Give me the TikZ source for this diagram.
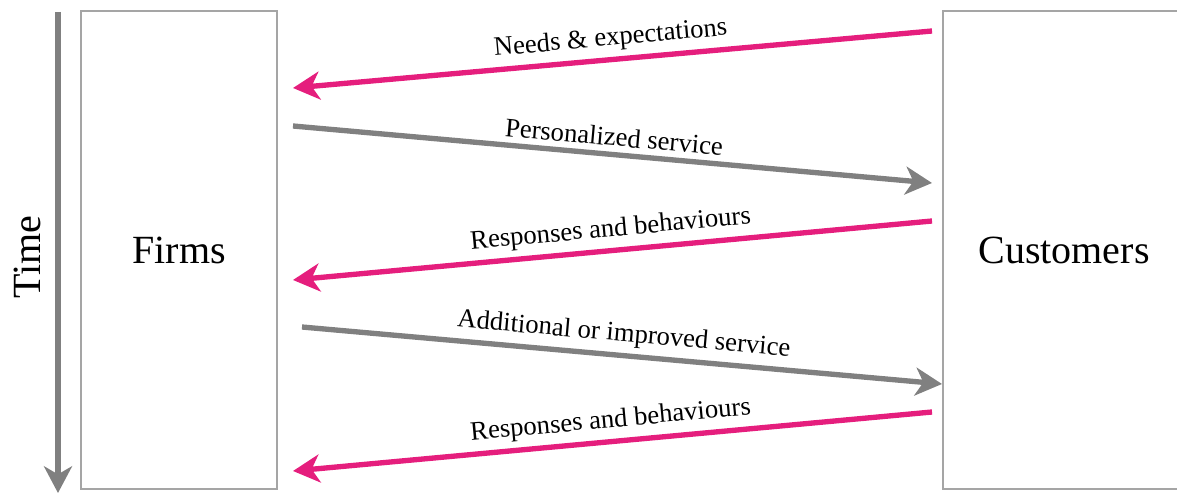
\documentclass[tikz,border=0pt]{standalone}
\usepackage{fontspec}
\setmainfont{Liberation Serif}
\usetikzlibrary{arrows.meta}
\definecolor{flowpink}{RGB}{229,30,125}
\definecolor{flowgray}{RGB}{128,128,128}
\definecolor{boxgray}{RGB}{165,165,165}
\tikzset{
    frame/.style = {draw=boxgray, line width=1.2pt},
    party/.style = {inner sep=0pt, minimum height=358.5pt},
    big/.style = {font=\fontsize{30}{36}\selectfont},
    flow/.style = {line width=4pt, -{Stealth[length=20pt, width=21pt, inset=6pt]}},
    to_firm/.style = {flow, flowpink},
    to_cust/.style = {flow, flowgray},
    msg/.style = {black, sloped, midway, above=1pt, font=\fontsize{20}{24}\selectfont}
}

\begin{document}
\begin{tikzpicture}
            [x=0.75pt, y=-0.75pt]

            \useasboundingbox (0,0) rectangle (1177,495);

            % the two parties
            \node [party, frame, big, minimum width=147pt] (firms) at (179,250) {Firms};
            \node [party, minimum width=200pt, anchor=west] (customers) at (943,250) {};
            \draw [frame] (customers.north east) -- (customers.north west)
                -- (customers.south west) -- (customers.south east);
            \node [big] (customers_label) at (1064,250) {Customers};

            % time axis
            \coordinate (t_start) at (58,12);
            \coordinate (t_end) at (58,493);
            \draw [flow, flowgray] (t_start) -- (t_end);
            \node [big, rotate=90] (time) at (27,257) {Time};

            % end points of the exchanges
            \coordinate (c1) at (932,31);  \coordinate (f1) at (293,88);
            \coordinate (f2) at (293,126); \coordinate (c2) at (932,183);
            \coordinate (c3) at (932,221); \coordinate (f3) at (293,280);
            \coordinate (f4) at (302,327); \coordinate (c4) at (942,384);
            \coordinate (c5) at (932,412); \coordinate (f5) at (293,471);

            \draw [to_firm] (c1) -- node [msg] (needs) {Needs \& expectations} (f1);
            \draw [to_cust] (f2) -- node [msg] (service) {Personalized service} (c2);
            \draw [to_firm] (c3) -- node [msg] (resp_a) {Responses and behaviours} (f3);
            \draw [to_cust] (f4) -- node [msg] (improved) {Additional or improved service} (c4);
            \draw [to_firm] (c5) -- node [msg] (resp_b) {Responses and behaviours} (f5);
        \end{tikzpicture}
\end{document}
